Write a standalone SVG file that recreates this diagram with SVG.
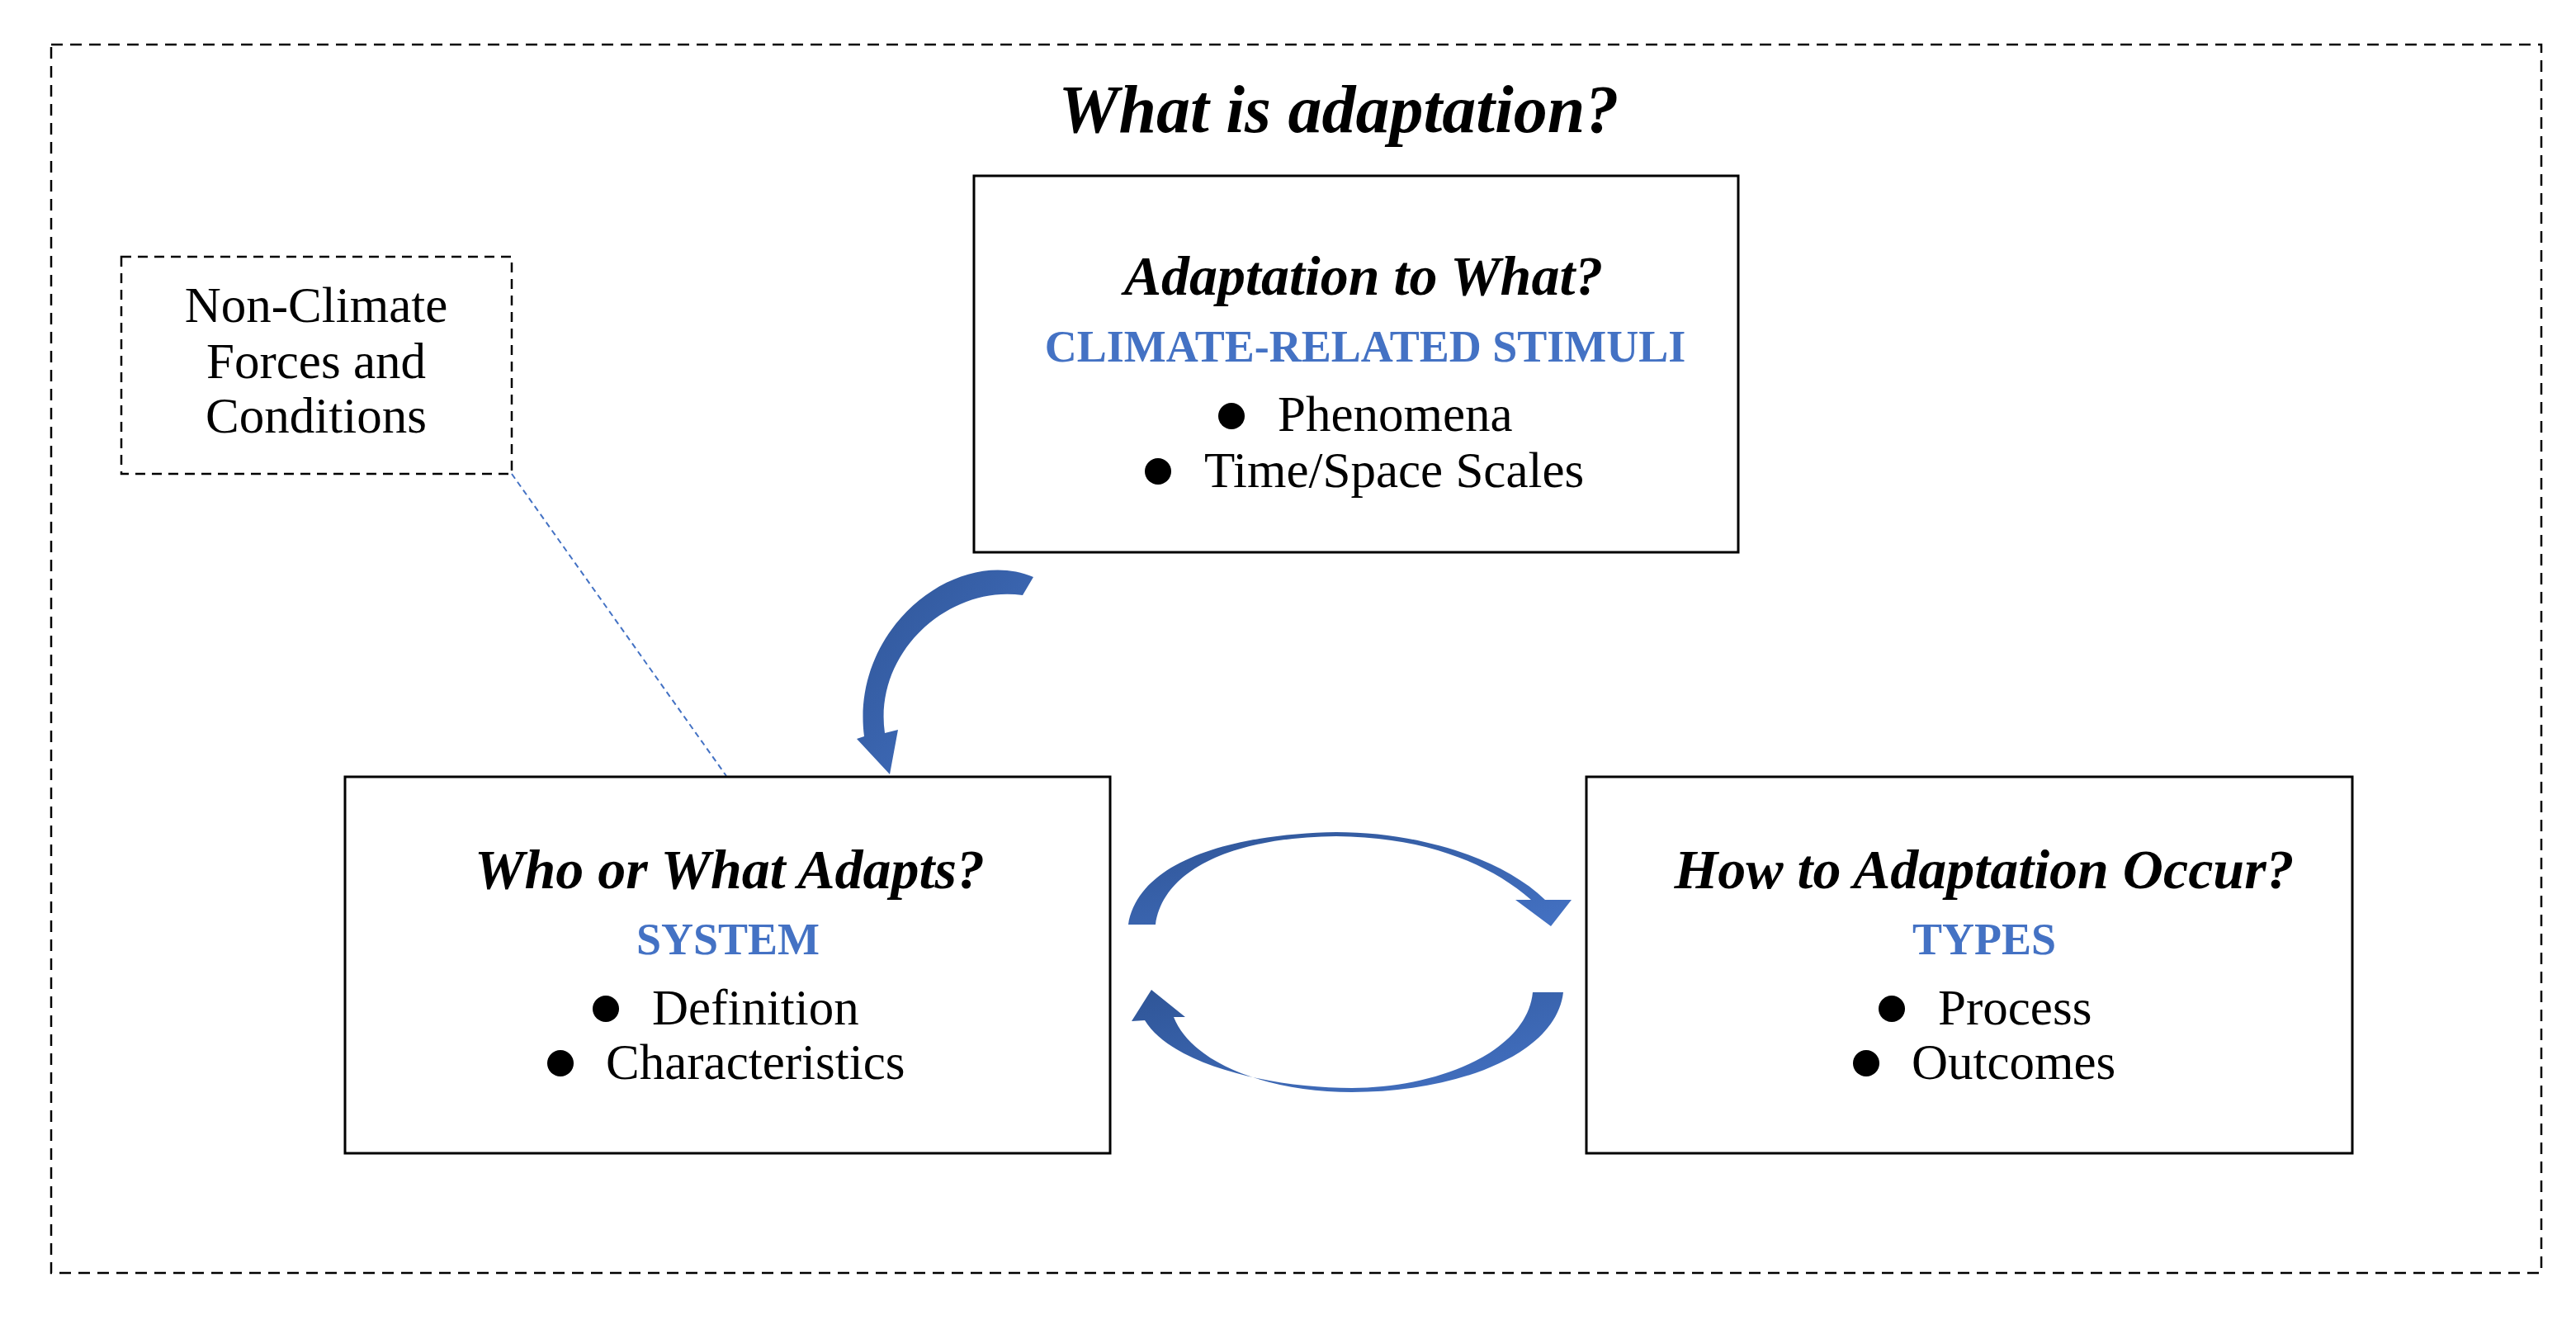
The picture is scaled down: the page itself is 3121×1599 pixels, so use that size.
<svg xmlns="http://www.w3.org/2000/svg" width="3121" height="1599" viewBox="0 0 3121 1599">
<style>
.h{font-family:"Liberation Serif",serif;font-weight:bold;font-style:italic;font-size:68px;text-anchor:middle}
.s{font-family:"Liberation Serif",serif;font-weight:bold;font-size:54px;fill:#4472C4;text-anchor:middle}
.b{font-family:"Liberation Serif",serif;font-size:61px}
.box{fill:#fff;stroke:#000;stroke-width:3}
.arr{fill:url(#g)}
</style>
<defs>
<linearGradient id="g" x1="0" y1="0" x2="1" y2="1"><stop offset="0" stop-color="#2F5597"/><stop offset="1" stop-color="#4472C4"/></linearGradient>
</defs>
<rect x="62" y="54" width="3017" height="1488" fill="none" stroke="#000" stroke-width="2.5" stroke-dasharray="14,9"/>
<text x="1622" y="160" class="h" style="font-size:82px">What is adaptation?</text>
<g id="connectors">
<line x1="620" y1="574" x2="880" y2="940" stroke="#4472C4" stroke-width="2" stroke-dasharray="7,5"/>
<path class="arr" d="M1252,699 C1160,660 1030,760 1047,892 L1038,895 L1078,938 L1088,884 L1072,888 C1058,790 1150,708 1239,721 Z"/>
<path class="arr" d="M1367,1120 C1380,1040 1500,1010 1619,1008 C1720,1008 1820,1040 1872,1090 L1904,1090 L1879,1122 L1836,1090 L1855,1090 C1800,1042 1720,1014 1619,1013 C1500,1014 1410,1050 1400,1120 Z"/>
<path class="arr" d="M1894,1202 C1885,1280 1760,1323 1638,1323 C1540,1323 1445,1290 1422,1232 L1436,1232 L1395,1199 L1371,1237 L1387,1236 C1420,1290 1540,1318 1638,1318 C1740,1318 1850,1275 1857,1202 Z"/>
</g>
<g id="nonclimate">
<rect x="147" y="311" width="473" height="263" fill="#fff" stroke="#000" stroke-width="2.5" stroke-dasharray="12,8"/>
<text class="b" x="383" y="390" text-anchor="middle">Non-Climate</text>
<text class="b" x="383" y="458" text-anchor="middle">Forces and</text>
<text class="b" x="383" y="524" text-anchor="middle">Conditions</text>
</g>
<g id="stimuli">
<rect class="box" x="1180" y="213" width="926" height="456"/>
<text class="h" x="1652" y="357">Adaptation to What?</text>
<text class="s" x="1654" y="438">CLIMATE-RELATED STIMULI</text>
<circle cx="1492" cy="504" r="16"/><text class="b" x="1548" y="522">Phenomena</text>
<circle cx="1403" cy="571" r="16"/><text class="b" x="1459" y="590">Time/Space Scales</text>
</g>
<g id="system">
<rect class="box" x="418" y="941" width="927" height="456"/>
<text class="h" x="884" y="1076">Who or What Adapts?</text>
<text class="s" x="882" y="1156">SYSTEM</text>
<circle cx="734" cy="1222" r="16"/><text class="b" x="790" y="1241">Definition</text>
<circle cx="679" cy="1288" r="16"/><text class="b" x="734" y="1307">Characteristics</text>
</g>
<g id="types">
<rect class="box" x="1922" y="941" width="928" height="456"/>
<text class="h" x="2404" y="1076">How to Adaptation Occur?</text>
<text class="s" x="2404" y="1156">TYPES</text>
<circle cx="2292" cy="1222" r="16"/><text class="b" x="2348" y="1241">Process</text>
<circle cx="2261" cy="1288" r="16"/><text class="b" x="2316" y="1307">Outcomes</text>
</g>
</svg>
